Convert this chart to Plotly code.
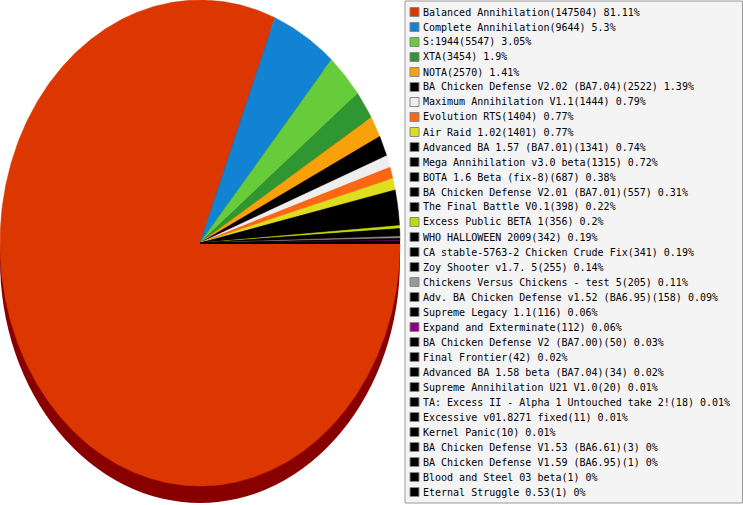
import numpy as np
import plotly.graph_objects as go

# mod name, games played
mods = [
    "Balanced Annihilation", "Complete Annihilation", "S:1944", "XTA", "NOTA",
    "BA Chicken Defense V2.02 (BA7.04)", "Maximum Annihilation V1.1", "Evolution RTS",
    "Air Raid 1.02", "Advanced BA 1.57 (BA7.01)", "Mega Annihilation v3.0 beta",
    "BOTA 1.6 Beta (fix-8)", "BA Chicken Defense V2.01 (BA7.01)", "The Final Battle V0.1",
    "Excess Public BETA 1", "WHO HALLOWEEN 2009", "CA stable-5763-2 Chicken Crude Fix",
    "Zoy Shooter v1.7. 5", "Chickens Versus Chickens - test 5",
    "Adv. BA Chicken Defense v1.52 (BA6.95)", "Supreme Legacy 1.1", "Expand and Exterminate",
    "BA Chicken Defense V2 (BA7.00)", "Final Frontier", "Advanced BA 1.58 beta (BA7.04)",
    "Supreme Annihilation U21 V1.0", "TA: Excess II - Alpha 1 Untouched take 2!",
    "Excessive v01.8271 fixed", "Kernel Panic", "BA Chicken Defense V1.53 (BA6.61)",
    "BA Chicken Defense V1.59 (BA6.95)", "Blood and Steel 03 beta", "Eternal Struggle 0.53",
]
games = [
    147504, 9644, 5547, 3454, 2570,
    2522, 1444, 1404,
    1401, 1341, 1315,
    687, 557, 398,
    356, 342, 341,
    255, 205,
    158, 116, 112,
    50, 42, 34,
    20, 18,
    11, 10, 3,
    1, 1, 1,
]
colors = [
    "#dc3700", "#1282d2", "#66cc3a", "#2f9632", "#f9a10a",
    "#000000", "#eeeeee", "#ff6611",
    "#dddd22", "#000000", "#000000",
    "#000000", "#000000", "#000000",
    "#bbdd00", "#000000", "#000000",
    "#000000", "#999999",
    "#000000", "#000000", "#880088",
    "#000000", "#000000", "#000000",
    "#000000", "#000000",
    "#000000", "#000000", "#000000",
    "#000000", "#000000", "#000000",
]

W, H = 743, 505
cx, cy, rx, ry = 200, 243, 200, 243   # pie centre and radii, px
drop = 17                             # depth of the shadow, px
font = "DejaVu Sans Mono"

total = sum(games)
fig = go.Figure()

# shadow under the pie
fig.add_shape(type="circle", xref="x", yref="y", x0=-1, x1=1,
              y0=-1 - drop / ry, y1=1 - drop / ry,
              fillcolor="#880000", line_width=0, layer="below")

# slices, clockwise from 3 o'clock
start = 0.0
for name, n, col in zip(mods, games, colors):
    frac = n / total
    steps = max(2, int(frac * 720) + 2)
    t = -2 * np.pi * np.linspace(start, start + frac, steps)
    xs = np.concatenate([[0], np.cos(t), [0]])
    ys = np.concatenate([[0], np.sin(t), [0]])
    fig.add_trace(go.Scatter(
        x=xs, y=ys, mode="lines", fill="toself", fillcolor=col,
        line=dict(width=0.5, color=col), name=name,
        hoveron="fills", hoverinfo="name", showlegend=False))
    start += frac

# legend box drawn by hand
fig.add_shape(type="rect", xref="paper", yref="paper",
              x0=405 / W, x1=742.5 / W, y0=1 - 503 / H, y1=1 - 1 / H,
              fillcolor="#f4f4f4", line=dict(color="#999999", width=1))

for i, (name, n, col) in enumerate(zip(mods, games, colors)):
    yc = 12 + 15 * i
    pct = round(n / total * 100, 2)
    fig.add_shape(type="rect", xref="paper", yref="paper",
                  x0=410 / W, x1=419 / W,
                  y0=1 - (yc + 4.5) / H, y1=1 - (yc - 4.5) / H,
                  fillcolor=col, line=dict(color="#888888", width=1))
    fig.add_annotation(
        x=421 / W, y=1 - yc / H, xref="paper", yref="paper",
        xanchor="left", yanchor="middle", showarrow=False,
        text=f"{name}({n}) {pct:g}%",
        font=dict(family=font, size=10, color="#000000"))

fig.update_xaxes(visible=False, range=[-cx / rx, (W - cx) / rx], fixedrange=True)
fig.update_yaxes(visible=False, range=[-(H - cy) / ry, cy / ry], fixedrange=True)
fig.update_layout(
    width=W, height=H,
    margin=dict(l=0, r=0, t=0, b=0),
    paper_bgcolor="#ffffff", plot_bgcolor="#ffffff",
    showlegend=False,
)

# page body has a default 8px margin; drop it so the chart fills the window
fig.write_html("out.html", config=dict(displayModeBar=False),
               post_script="document.body.style.margin='0';document.body.style.overflow='hidden';")
